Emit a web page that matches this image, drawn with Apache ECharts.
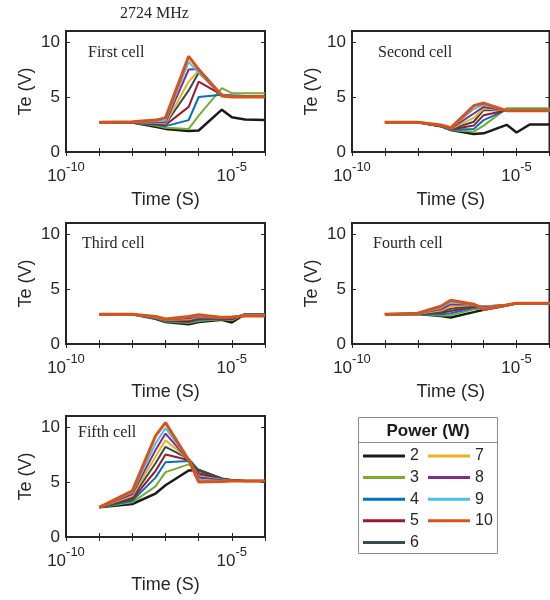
<!DOCTYPE html>
<html><head><meta charset="utf-8">
<script src="https://cdn.jsdelivr.net/npm/echarts@6/dist/echarts.min.js"></script>
<style>html,body{margin:0;padding:0;background:#fff}#c{width:550px;height:600px}</style>
</head><body><div id="c"></div>
<script>
// Time points (s)
const times = [1e-9, 1e-8, 5e-8, 1e-7, 5e-7, 1e-6, 5e-6, 1e-5, 2.5e-5, 1e-4];
const powers = ['2', '3', '4', '5', '6', '7', '8', '9', '10'];
const cellNames = ['First cell', 'Second cell', 'Third cell', 'Fourth cell', 'Fifth cell'];
const yTicks = [0, 5, 10];
const xTickLabels = [-10, -5];

// Te (V) per power, one row per power 2..10
const firstCell = [
  [2.7, 2.68, 2.3, 2.1, 1.9, 1.95, 3.85, 3.15, 2.95, 2.92],
  [2.7, 2.68, 2.4, 2.2, 2.1, 3.3, 5.8, 5.35, 5.35, 5.35],
  [2.7, 2.68, 2.5, 2.35, 2.9, 5.0, 5.2, 5.15, 5.1, 5.1],
  [2.7, 2.68, 2.55, 2.45, 4.1, 6.4, 5.2, 5.1, 5.05, 5.05],
  [2.7, 2.7, 2.6, 2.55, 5.6, 7.2, 5.2, 5.1, 5.05, 5.05],
  [2.7, 2.7, 2.65, 2.6, 6.4, 7.4, 5.2, 5.1, 5.05, 5.05],
  [2.7, 2.7, 2.7, 2.7, 7.5, 7.55, 5.2, 5.1, 5.05, 5.05],
  [2.7, 2.72, 2.8, 2.85, 8.2, 7.2, 5.15, 5.05, 5.0, 5.0],
  [2.7, 2.75, 2.9, 3.1, 8.7, 7.5, 5.1, 5.0, 5.0, 5.0]
];
const secondCell = [
  [2.7, 2.7, 2.35, 2.0, 1.63, 1.7, 2.47, 1.77, 2.5, 2.5],
  [2.7, 2.7, 2.35, 2.0, 1.85, 2.4, 3.97, 3.97, 3.97, 3.97],
  [2.7, 2.7, 2.35, 2.02, 2.1, 2.9, 3.85, 3.85, 3.85, 3.85],
  [2.7, 2.7, 2.35, 2.05, 2.4, 3.35, 3.8, 3.8, 3.8, 3.8],
  [2.7, 2.7, 2.37, 2.07, 2.75, 3.8, 3.8, 3.8, 3.8, 3.8],
  [2.7, 2.7, 2.4, 2.1, 3.1, 3.95, 3.78, 3.78, 3.78, 3.78],
  [2.7, 2.7, 2.4, 2.12, 3.5, 4.1, 3.78, 3.78, 3.78, 3.78],
  [2.7, 2.7, 2.42, 2.15, 3.9, 4.3, 3.77, 3.77, 3.77, 3.77],
  [2.7, 2.7, 2.45, 2.2, 4.2, 4.45, 3.76, 3.76, 3.76, 3.76]
];
const thirdCell = [
  [2.7, 2.7, 2.3, 2.0, 1.8, 2.0, 2.2, 1.95, 2.7, 2.7],
  [2.7, 2.7, 2.35, 2.05, 1.9, 2.1, 2.25, 2.15, 2.7, 2.7],
  [2.7, 2.7, 2.35, 2.1, 2.0, 2.2, 2.3, 2.25, 2.7, 2.7],
  [2.7, 2.7, 2.4, 2.15, 2.05, 2.3, 2.35, 2.3, 2.7, 2.7],
  [2.7, 2.7, 2.4, 2.2, 2.15, 2.4, 2.4, 2.35, 2.7, 2.7],
  [2.7, 2.7, 2.4, 2.2, 2.25, 2.45, 2.4, 2.4, 2.65, 2.65],
  [2.7, 2.7, 2.45, 2.25, 2.35, 2.5, 2.45, 2.4, 2.6, 2.6],
  [2.7, 2.7, 2.45, 2.25, 2.45, 2.55, 2.45, 2.45, 2.6, 2.6],
  [2.7, 2.7, 2.5, 2.28, 2.5, 2.65, 2.42, 2.45, 2.55, 2.55]
];
const fourthCell = [
  [2.7, 2.72, 2.55, 2.41, 2.9, 3.12, 3.5, 3.7, 3.7, 3.7],
  [2.7, 2.72, 2.6, 2.6, 3.15, 3.25, 3.5, 3.7, 3.7, 3.7],
  [2.7, 2.73, 2.7, 2.8, 3.3, 3.35, 3.52, 3.7, 3.7, 3.7],
  [2.7, 2.74, 2.85, 3.0, 3.4, 3.4, 3.55, 3.7, 3.7, 3.7],
  [2.7, 2.75, 2.95, 3.2, 3.5, 3.42, 3.55, 3.7, 3.7, 3.7],
  [2.7, 2.76, 3.05, 3.4, 3.55, 3.4, 3.55, 3.7, 3.7, 3.7],
  [2.7, 2.77, 3.15, 3.6, 3.58, 3.35, 3.55, 3.7, 3.7, 3.7],
  [2.7, 2.78, 3.28, 3.8, 3.6, 3.25, 3.55, 3.7, 3.7, 3.7],
  [2.7, 2.8, 3.43, 3.98, 3.62, 3.14, 3.55, 3.7, 3.7, 3.7]
];
const fifthCell = [
  [2.7, 3.0, 3.95, 4.7, 6.05, 6.1, 5.3, 5.15, 5.1, 5.1],
  [2.7, 3.15, 4.6, 5.9, 6.6, 6.05, 5.25, 5.15, 5.1, 5.1],
  [2.7, 3.3, 5.4, 6.8, 6.9, 5.6, 5.2, 5.12, 5.1, 5.1],
  [2.7, 3.45, 6.0, 7.5, 7.0, 5.8, 5.25, 5.15, 5.1, 5.1],
  [2.7, 3.6, 6.7, 8.2, 7.1, 6.05, 5.3, 5.15, 5.1, 5.1],
  [2.7, 3.75, 7.3, 8.8, 7.05, 5.5, 5.2, 5.12, 5.1, 5.1],
  [2.7, 3.9, 7.9, 9.4, 7.0, 5.4, 5.15, 5.1, 5.1, 5.1],
  [2.7, 4.05, 8.5, 9.9, 7.0, 5.2, 5.1, 5.1, 5.1, 5.1],
  [2.7, 4.2, 9.2, 10.4, 7.0, 5.0, 5.05, 5.1, 5.1, 5.1]
];
const cells = [firstCell, secondCell, thirdCell, fourthCell, fifthCell];

const colors = ['#1a1a1a', '#77AC30', '#0072BD', '#A2142F', '#2F4F4F', '#EDB120', '#7E2F8E', '#4DBEEE', '#D95319'];
const widths = [2.5, 2, 2, 2, 2, 2, 2, 2, 3];
const sans = '"Liberation Sans", Arial, sans-serif';
const serif = '"Liberation Serif", "Times New Roman", serif';
const ink = '#262626';

const grids = [
  {left: 66, top: 31, width: 199, height: 121},
  {left: 352, top: 31, width: 197.5, height: 121},
  {left: 66, top: 223, width: 199, height: 121},
  {left: 352, top: 223, width: 197.5, height: 121},
  {left: 66, top: 416, width: 199, height: 121}
];
const labelPos = [[88, 45], [378, 45], [82, 236], [373, 236], [78, 425]];

const xAxes = [], yAxes = [], series = [];
grids.forEach((g, i) => {
  g.show = true; g.borderColor = ink; g.borderWidth = 2; g.backgroundColor = '#fff';
  g.outerBoundsMode = 'none'; g.containLabel = false;
  const tick = {show: true, inside: true, length: 4, lineStyle: {color: ink, width: 1}};
  xAxes.push({
    type: 'log', logBase: 10, min: 1e-10, max: 1e-4, gridIndex: i, position: 'bottom',
    axisLine: {show: false}, axisTick: tick, splitLine: {show: false}, minorTick: {show: false},
    name: 'Time (S)', nameLocation: 'middle', nameGap: 39,
    nameTextStyle: {fontFamily: sans, fontSize: 18, color: ink},
    axisLabel: {
      margin: 9, showMinLabel: true, showMaxLabel: true, hideOverlap: false,
      formatter: v => {
        const e = Math.round(Math.log10(v));
        return xTickLabels.indexOf(e) >= 0 ? '{b|10}{s|' + e + '}' : '';
      },
      rich: {
        b: {fontFamily: sans, fontSize: 17, color: ink, lineHeight: 24, verticalAlign: 'bottom'},
        s: {fontFamily: sans, fontSize: 13, color: ink, lineHeight: 15, verticalAlign: 'top'}
      }
    }
  });
  xAxes.push({
    type: 'log', logBase: 10, min: 1e-10, max: 1e-4, gridIndex: i, position: 'top',
    axisLine: {show: false}, axisTick: tick, axisLabel: {show: false}, splitLine: {show: false}
  });
  yAxes.push({
    type: 'value', min: 0, max: 11, interval: 5, gridIndex: i, position: 'left',
    axisLine: {show: false}, axisTick: tick, splitLine: {show: false},
    name: 'Te (V)', nameLocation: 'middle', nameGap: 31, nameRotate: 90,
    nameTextStyle: {fontFamily: sans, fontSize: 18, color: ink},
    axisLabel: {margin: 6, fontFamily: sans, fontSize: 17, color: ink,
      formatter: v => (yTicks.indexOf(v) >= 0 ? String(v) : '')}
  });
  yAxes.push({
    type: 'value', min: 0, max: 11, interval: 5, gridIndex: i, position: 'right',
    axisLine: {show: false}, axisTick: tick, axisLabel: {show: false}, splitLine: {show: false}
  });
  cells[i].forEach((vals, k) => {
    series.push({
      name: powers[k], type: 'line', xAxisIndex: 2 * i, yAxisIndex: 2 * i,
      data: times.map((t, j) => [t, vals[j]]),
      symbol: 'none', showSymbol: false, silent: true, z: 2 + k,
      color: colors[k], itemStyle: {color: colors[k]},
      lineStyle: {color: colors[k], width: widths[k]},
      emphasis: {disabled: true}
    });
  });
});

const titles = [{
  text: '2724 MHz', left: 120, top: 6, padding: 0,
  textStyle: {fontFamily: serif, fontSize: 16, fontWeight: 'normal', color: ink}
}];
cellNames.forEach((n, i) => titles.push({
  text: n, left: labelPos[i][0], top: labelPos[i][1], padding: 0, z: 10,
  textStyle: {fontFamily: serif, fontSize: 16, fontWeight: 'normal', color: ink}
}));

const legendBase = {
  orient: 'vertical', itemWidth: 42, itemHeight: 3, itemGap: 5.6, icon: 'rect', padding: 0,
  selectedMode: false, top: 448,
  textStyle: {fontFamily: sans, fontSize: 16, color: ink, lineHeight: 16}
};

const chart = echarts.init(document.getElementById('c'), null, {renderer: 'canvas'});
chart.setOption({
  animation: false,
  backgroundColor: '#fff',
  title: titles,
  grid: grids,
  xAxis: xAxes,
  yAxis: yAxes,
  series: series,
  legend: [
    Object.assign({}, legendBase, {left: 363, data: powers.slice(0, 5)}),
    Object.assign({}, legendBase, {left: 428, data: powers.slice(5)})
  ],
  graphic: [
    {type: 'rect', z: 0, shape: {x: 358.5, y: 417.5, width: 139, height: 136},
      style: {fill: '#fff', stroke: '#8c8c8c', lineWidth: 1}},
    {type: 'line', z: 1, shape: {x1: 358.5, y1: 442.5, x2: 497.5, y2: 442.5},
      style: {stroke: '#8c8c8c', lineWidth: 1}},
    {type: 'text', z: 1, style: {text: 'Power (W)', x: 428, y: 431, align: 'center', verticalAlign: 'middle',
      font: 'bold 17px "Liberation Sans", Arial, sans-serif', fill: '#1a1a1a'}}
  ]
});
</script></body></html>
